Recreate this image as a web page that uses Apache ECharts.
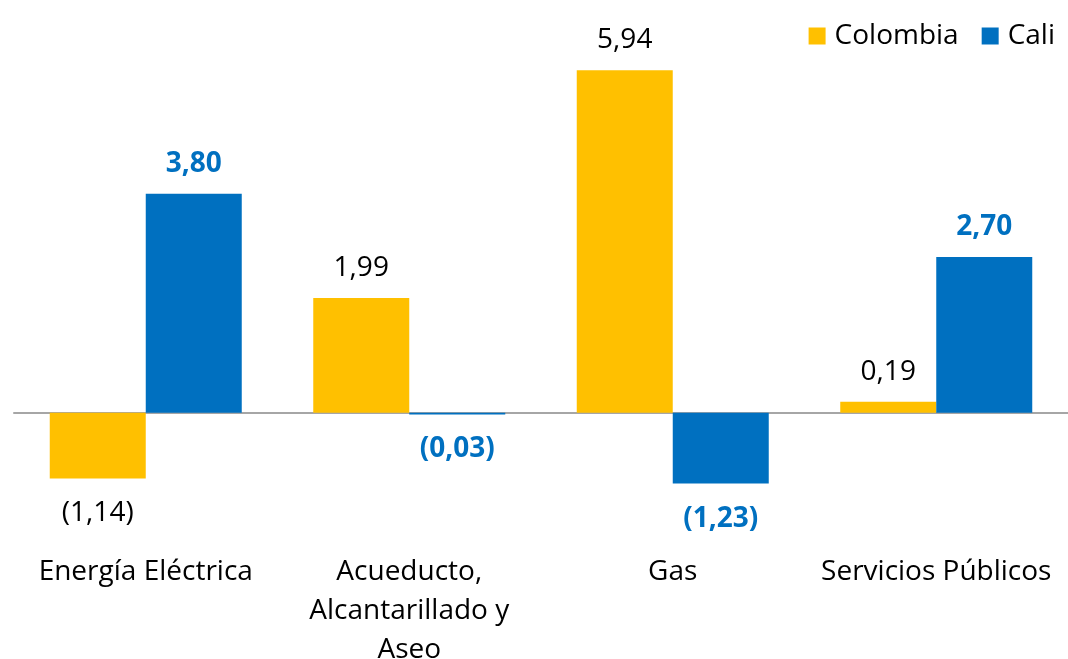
<!DOCTYPE html>
<html>
<head>
<meta charset="utf-8">
<script src="https://cdn.jsdelivr.net/npm/echarts@6/dist/echarts.min.js"></script>
<style>html,body{margin:0;padding:0;background:#fff}#c{width:1068px;height:659px}</style>
</head>
<body>
<div id="c"></div>
<script>
const categories = ['Energía Eléctrica', 'Acueducto,\nAlcantarillado y\nAseo', 'Gas', 'Servicios Públicos'];
const colombia = [-1.14, 1.99, 5.94, 0.19];
const cali = [3.80, -0.03, -1.23, 2.70];

function fmt(v) {
  const s = Math.abs(v).toFixed(2).replace('.', ',');
  return v < 0 ? '(' + s + ')' : s;
}
const FONT = '"Open Sans", sans-serif';
const FS = 28;

function labelCfg(color, bold) {
  return {
    show: true,
    position: 'top',
    distance: 16,
    color: color,
    fontSize: FS,
    fontWeight: bold ? 'bold' : 'normal',
    fontFamily: FONT,
    formatter: p => fmt(p.value)
  };
}
function withNeg(arr, color, bold) {
  return arr.map(v => v < 0 ? { value: v, label: Object.assign(labelCfg(color, bold), { position: 'bottom', distance: 21 }) } : v);
}

const chart = echarts.init(document.getElementById('c'));
chart.setOption({
  animation: false,
  textStyle: { fontFamily: FONT },
  legend: {
    top: 17, right: 8,
    itemWidth: 17, itemHeight: 17, itemGap: 23,
    textStyle: { fontSize: FS, color: '#000', fontFamily: FONT, padding: [0, 0, 0, 4] },
    data: [{ name: 'Colombia', icon: 'rect' }, { name: 'Cali', icon: 'rect' }]
  },
  grid: { left: 14, right: 0, top: 38, height: 490, outerBoundsMode: 'none', containLabel: false },
  xAxis: [
    {
      type: 'category', data: categories,
      axisLine: { onZero: true, lineStyle: { color: '#A6A6A6', width: 2 } },
      axisTick: { show: false }, axisLabel: { show: false }
    },
    {
      type: 'category', data: categories, position: 'bottom',
      axisLine: { show: false, onZero: false }, axisTick: { show: false },
      axisLabel: { show: true, margin: 25, fontSize: FS, lineHeight: 39, color: '#000', fontFamily: FONT, interval: 0, verticalAlign: 'top' }
    }
  ],
  yAxis: { type: 'value', min: -2, max: 6.5, show: false, splitLine: { show: false } },
  series: [
    {
      name: 'Colombia', type: 'bar', xAxisIndex: 0, barWidth: 96, barGap: '0%',
      itemStyle: { color: '#FFC000' },
      label: labelCfg('#000', false),
      data: withNeg(colombia, '#000', false)
    },
    {
      name: 'Cali', type: 'bar', xAxisIndex: 0, barWidth: 96, barGap: '0%',
      itemStyle: { color: '#0070C0' },
      label: labelCfg('#0070C0', true),
      data: withNeg(cali, '#0070C0', true)
    }
  ]
});
</script>
</body>
</html>
